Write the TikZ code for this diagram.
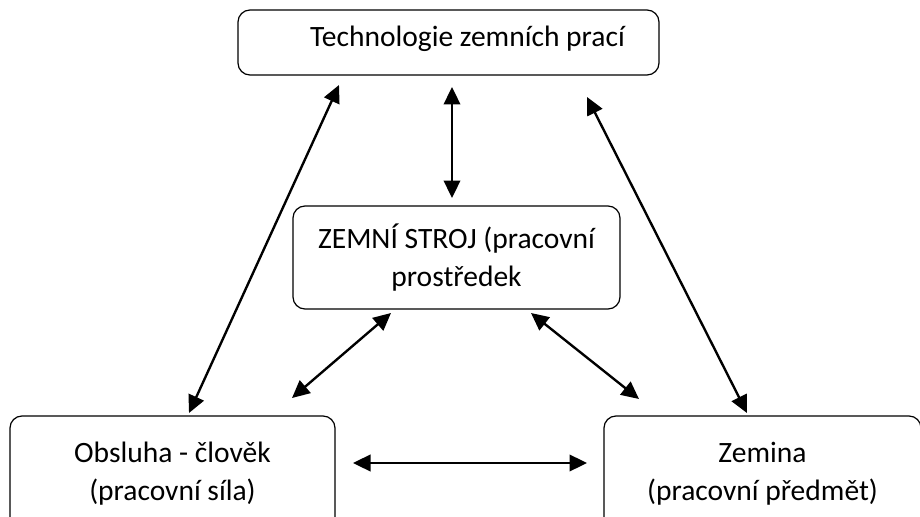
\documentclass[tikz,border=0pt]{standalone}
\usepackage{fontspec}
\setmainfont{Carlito}
\usetikzlibrary{arrows.meta}
\begin{document}
\begin{tikzpicture}[x=0.02cm,y=-0.02cm,
    box/.style={draw,line width=0.7pt,rounded corners=0.24cm,align=center,inner sep=0pt,
        font=\fontsize{16.8}{21.6}\selectfont},
    link/.style={{Triangle[length=0.35cm,width=0.33cm]}-{Triangle[length=0.35cm,width=0.33cm]},line width=1.35pt}]
    \def\u{0.02cm}  %one pixel
    \useasboundingbox (0,0) rectangle (920,517);
    \clip (0,0) rectangle (920,517);
    % the four blocks
    \node[box,minimum width=421*\u,minimum height=65*\u] (tech) at (448.5,42.5) {};
    \node[anchor=base,font=\fontsize{16.8}{21.6}\selectfont,inner sep=0pt] (techtext) at (467.5,47) {Technologie zemních prací};
    \node[box,minimum width=327*\u,minimum height=103*\u] (stroj) at (456.5,257.5) {ZEMNÍ STROJ (pracovní\\prostředek};
    \node[box,minimum width=325*\u,minimum height=116*\u] (obsluha) at (172.5,474) {Obsluha - člověk\\(pracovní síla)};
    \node[box,minimum width=317*\u,minimum height=116*\u] (zemina) at (762.5,474) {Zemina\\(pracovní předmět)};
    % arrow ends
    \coordinate (t1) at (452,87);   \coordinate (s1) at (452,198);
    \coordinate (t2) at (339,85);   \coordinate (o1) at (189,413);
    \coordinate (t3) at (587,97);   \coordinate (z1) at (747,413);
    \coordinate (s2) at (391,313);  \coordinate (o2) at (292,398);
    \coordinate (s3) at (531,313);  \coordinate (z2) at (639,399);
    \coordinate (o3) at (353,463);  \coordinate (z3) at (587,463);
    \draw[link] (t1) -- (s1);
    \draw[link] (t2) -- (o1);
    \draw[link] (t3) -- (z1);
    \draw[link] (s2) -- (o2);
    \draw[link] (s3) -- (z2);
    \draw[link] (o3) -- (z3);
\end{tikzpicture}
\end{document}
